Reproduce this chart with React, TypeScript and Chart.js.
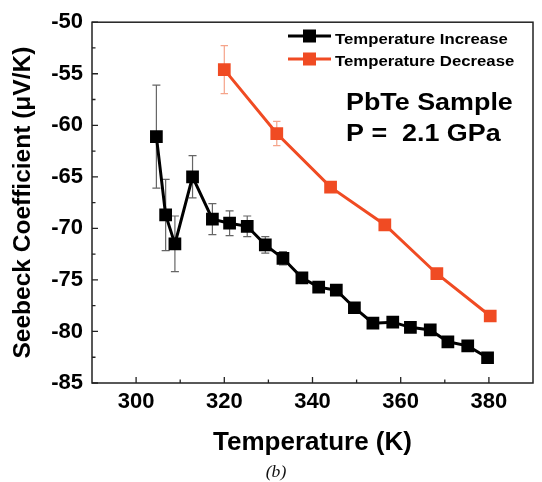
import React, { useEffect, useRef } from 'react';
import { Chart, registerables } from 'chart.js';

Chart.register(...registerables);

// ---- data ----
const incTemps = [304.6, 306.7, 308.8, 312.8, 317.3, 321.2, 325.2, 329.3, 333.3, 337.6, 341.4, 345.4, 349.5, 353.7, 358.2, 362.2, 366.7, 370.7, 375.2, 379.7];
const incValues = [-61.1, -68.7, -71.5, -65.0, -69.1, -69.5, -69.8, -71.6, -72.9, -74.8, -75.7, -76.0, -77.7, -79.2, -79.1, -79.6, -79.85, -81.0, -81.4, -82.55];
const incErrors = [5.0, 3.45, 2.7, 2.05, 1.5, 1.2, 1.0, 0.8, 0.65, 0.5, 0.5, 0.45, 0.4, 0.35, 0.35, 0.35, 0.35, 0.35, 0.35, 0.35];

const decTemps = [320, 331.9, 344.1, 356.4, 368.2, 380.3];
const decValues = [-54.6, -60.8, -66.0, -69.65, -74.4, -78.5];
const decErrors = [2.33, 1.18, 0.5, 0.4, 0.4, 0.4];

const xTickValues = [300, 320, 340, 360, 380];
const xMinorTicks = [310, 330, 350, 370];
const yTickValues = [-85, -80, -75, -70, -65, -60, -55, -50];
const yMinorTicks = [-82.5, -77.5, -72.5, -67.5, -62.5, -57.5, -52.5];

const seriesLabels = ['Temperature Increase', 'Temperature Decrease'];
const noteLines = ['PbTe Sample', 'P =  2.1 GPa'];
const xTitle = 'Temperature (K)';
const yTitle = 'Seebeck Coefficient (\u03bcV/K)';
const caption = '(b)';

const BLACK = '#000000';
const RED = '#F04B23';
const BLACK_ERR = '#666666';
const RED_ERR = '#F5A48A';
const FONT = '"Liberation Sans", Arial, Helvetica, sans-serif';

function drawStretched(ctx: CanvasRenderingContext2D, text: string, x: number, yCap: number, size: number, sx: number, font: string, color: string) {
  ctx.save();
  ctx.font = font;
  ctx.fillStyle = color;
  ctx.textAlign = 'left';
  ctx.textBaseline = 'alphabetic';
  ctx.translate(x, yCap + size * 0.358);
  ctx.scale(sx, 1);
  ctx.fillText(text, 0, 0);
  ctx.restore();
}

const decorPlugin = {
  id: 'decor',
  beforeDatasetsDraw(chart: any) {
    const ctx: CanvasRenderingContext2D = chart.ctx;
    const xs = chart.scales.x;
    const ys = chart.scales.y;
    const sets = [
      { t: incTemps, v: incValues, e: incErrors, c: BLACK_ERR, cap: 4 },
      { t: decTemps, v: decValues, e: decErrors, c: RED_ERR, cap: 3.7 },
    ];
    ctx.save();
    ctx.lineWidth = 1.2;
    for (const s of sets) {
      ctx.strokeStyle = s.c;
      s.t.forEach((t, i) => {
        const px = xs.getPixelForValue(t);
        const top = ys.getPixelForValue(s.v[i] + s.e[i]);
        const bot = ys.getPixelForValue(s.v[i] - s.e[i]);
        ctx.beginPath();
        ctx.moveTo(px, top); ctx.lineTo(px, bot);
        ctx.moveTo(px - s.cap, top); ctx.lineTo(px + s.cap, top);
        ctx.moveTo(px - s.cap, bot); ctx.lineTo(px + s.cap, bot);
        ctx.stroke();
      });
    }
    ctx.restore();
  },
  afterDraw(chart: any) {
    const ctx: CanvasRenderingContext2D = chart.ctx;
    const { left, right, top, bottom } = chart.chartArea;
    const xs = chart.scales.x;
    const ys = chart.scales.y;
    ctx.save();
    // frame
    ctx.strokeStyle = '#222';
    ctx.lineWidth = 1.5;
    ctx.strokeRect(left, top, right - left, bottom - top);
    // inward ticks
    ctx.lineWidth = 1.3;
    ctx.beginPath();
    xTickValues.forEach(v => { const p = xs.getPixelForValue(v); ctx.moveTo(p, bottom); ctx.lineTo(p, bottom - 6); });
    xMinorTicks.forEach(v => { const p = xs.getPixelForValue(v); ctx.moveTo(p, bottom); ctx.lineTo(p, bottom - 3.5); });
    yTickValues.forEach(v => { const p = ys.getPixelForValue(v); ctx.moveTo(left, p); ctx.lineTo(left + 6, p); });
    yMinorTicks.forEach(v => { const p = ys.getPixelForValue(v); ctx.moveTo(left, p); ctx.lineTo(left + 3.5, p); });
    ctx.stroke();

    // legend
    const legendRows = [
      { y: 36, color: BLACK, label: seriesLabels[0], capY: 38 },
      { y: 59, color: RED, label: seriesLabels[1], capY: 60 },
    ];
    legendRows.forEach(r => {
      ctx.strokeStyle = r.color;
      ctx.fillStyle = r.color;
      ctx.lineWidth = 3;
      ctx.beginPath();
      ctx.moveTo(288, r.y); ctx.lineTo(331, r.y);
      ctx.stroke();
      ctx.fillRect(309.5 - 6.5, r.y - 6.5, 13, 13);
      drawStretched(ctx, r.label, 335, r.capY, 15.5, 1.08, 'bold 15.5px ' + FONT, '#000');
    });

    // annotation
    drawStretched(ctx, noteLines[0], 346, 101.5, 24, 1.12, 'bold 24px ' + FONT, '#000');
    drawStretched(ctx, noteLines[1], 346, 132.5, 24, 1.12, 'bold 24px ' + FONT, '#000');

    // caption
    ctx.save();
    ctx.font = 'italic 16px "Liberation Serif", "Times New Roman", serif';
    ctx.fillStyle = '#111';
    ctx.textAlign = 'center';
    ctx.textBaseline = 'middle';
    ctx.translate(276, 473);
    ctx.scale(1.1, 1);
    ctx.fillText(caption, 0, 0);
    ctx.restore();

    ctx.restore();
  },
};

export default function App() {
  const canvasRef = useRef<HTMLCanvasElement | null>(null);

  useEffect(() => {
    const canvas = canvasRef.current;
    if (!canvas) return;
    const chart = new Chart(canvas, {
      type: 'line',
      data: {
        datasets: [
          {
            label: seriesLabels[0],
            data: incTemps.map((t, i) => ({ x: t, y: incValues[i] })),
            borderColor: BLACK,
            backgroundColor: BLACK,
            borderWidth: 3,
            pointStyle: 'rect',
            pointRadius: 9,
            pointBorderWidth: 0,
            pointBackgroundColor: BLACK,
            tension: 0,
          },
          {
            label: seriesLabels[1],
            data: decTemps.map((t, i) => ({ x: t, y: decValues[i] })),
            borderColor: RED,
            backgroundColor: RED,
            borderWidth: 3,
            pointStyle: 'rect',
            pointRadius: 9,
            pointBorderWidth: 0,
            pointBackgroundColor: RED,
            tension: 0,
          },
        ],
      },
      options: {
        responsive: false,
        animation: false,
        devicePixelRatio: 1,
        layout: { padding: { top: 22, right: 2, bottom: 0, left: 0 } },
        plugins: { legend: { display: false }, tooltip: { enabled: false } },
        scales: {
          x: {
            type: 'linear',
            min: 290,
            max: 390,
            afterFit: (s: any) => { s.height = 99; },
            afterBuildTicks: (s: any) => { s.ticks = xTickValues.map(v => ({ value: v })); },
            grid: { display: false, drawTicks: false },
            border: { display: false },
            ticks: { color: '#000', padding: 6, font: { family: FONT, size: 22, weight: 'bold' }, maxRotation: 0 },
            title: { display: true, text: xTitle, color: '#000', font: { family: FONT, size: 26, weight: 'bold' }, padding: { top: 0, bottom: 24 } },
          },
          y: {
            type: 'linear',
            min: -85,
            max: -50,
            afterFit: (s: any) => { s.width = 92; },
            afterBuildTicks: (s: any) => { s.ticks = yTickValues.map(v => ({ value: v })); },
            grid: { display: false, drawTicks: false },
            border: { display: false },
            ticks: { color: '#000', padding: 9, font: { family: FONT, size: 22, weight: 'bold' } },
            title: { display: true, text: yTitle, color: '#000', font: { family: FONT, size: 24.5, weight: 'bold' }, padding: { top: 9, bottom: 0 } },
          },
        },
      },
      plugins: [decorPlugin],
    } as any);
    return () => chart.destroy();
  }, []);

  return (
    <div style={{ position: 'absolute', left: 0, top: 0, width: 542, height: 482, background: '#fff' }}>
      <canvas ref={canvasRef} width={542} height={482} style={{ display: 'block' }} />
    </div>
  );
}
